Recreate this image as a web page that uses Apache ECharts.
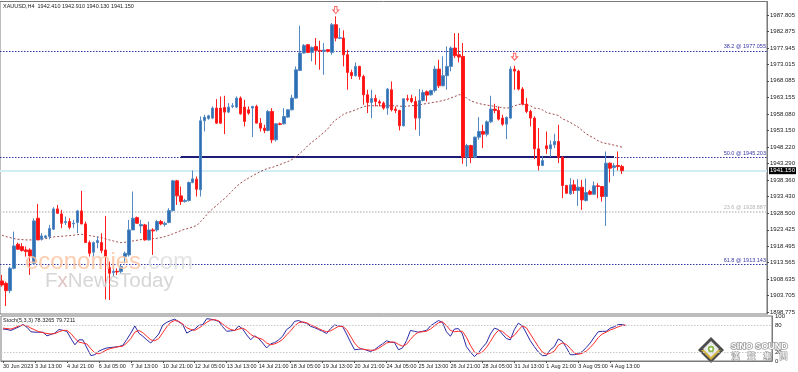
<!DOCTYPE html>
<html><head><meta charset="utf-8">
<script src="https://cdn.jsdelivr.net/npm/echarts@6/dist/echarts.min.js"></script>
<style>html,body{margin:0;padding:0;background:#fff}#c{width:798px;height:372px}</style>
</head><body><div id="c"></div>
<script>
const symbolName = 'XAUUSD,H4';
const openP = [1908.1,1907.4,1905.2,1911.9,1919.1,1918.4,1917.4,1917.4,1913.4,1926.9,
1920.6,1921.1,1921.4,1923.6,1929.7,1928.2,1925.6,1925.9,1925.2,1925.6,
1929.1,1925.2,1919.6,1916.7,1919.6,1919.6,1917.4,1912.1,1910.6,1911.0,
1910.9,1915.4,1915.9,1923.4,1927.1,1924.6,1924.9,1920.4,1923.4,1923.4,
1925.9,1925.0,1925.6,1929.2,1938.1,1933.6,1931.9,1932.2,1937.6,1938.6,
1935.4,1956.1,1956.8,1956.9,1959.9,1959.9,1960.1,1958.7,1960.4,1960.2,
1962.9,1960.2,1959.4,1959.9,1960.4,1955.4,1953.9,1953.2,1958.9,1950.4,
1955.2,1955.2,1957.2,1959.4,1962.9,1971.2,1976.4,1978.9,1976.6,1978.4,
1977.2,1977.0,1977.4,1976.6,1984.9,1980.8,1980.9,1975.9,1970.6,1969.6,
1972.4,1969.4,1963.9,1961.6,1962.8,1961.8,1961.4,1959.9,1965.4,1959.6,
1959.2,1954.6,1962.7,1962.8,1961.9,1956.9,1962.2,1964.8,1963.9,1965.2,
1971.6,1966.6,1969.6,1972.4,1977.9,1975.9,1975.4,1945.2,1948.7,1945.2,
1951.2,1952.9,1952.1,1955.8,1959.6,1959.2,1956.9,1955.1,1956.9,1971.6,
1971.0,1965.6,1961.1,1958.9,1956.9,1947.7,1942.7,1948.6,1947.7,1948.9,
1949.9,1945.2,1936.7,1934.2,1936.9,1935.2,1936.2,1932.2,1934.9,1934.1,
1936.6,1936.4,1933.4,1943.4,1942.1,1942.7,1942.41];
const closeP = [1906.9,1905.2,1911.9,1918.6,1917.6,1917.2,1916.9,1915.6,1926.1,1920.4,
1921.6,1921.6,1923.8,1929.7,1928.4,1925.4,1925.9,1924.2,1925.4,1929.1,
1925.2,1919.6,1916.4,1919.6,1920.2,1917.2,1915.4,1910.4,1911.0,1910.8,
1912.4,1916.4,1923.4,1926.9,1925.4,1925.0,1920.4,1923.4,1923.1,1925.9,
1925.2,1925.4,1929.2,1938.1,1933.6,1931.9,1932.2,1937.6,1938.7,1935.6,
1956.1,1957.2,1957.6,1959.9,1955.4,1955.4,1958.7,1960.2,1960.6,1962.9,
1958.2,1955.9,1958.4,1960.4,1955.4,1953.9,1953.2,1958.9,1950.4,1955.2,
1955.0,1957.4,1959.4,1962.9,1971.4,1976.4,1978.7,1976.6,1978.1,1977.2,
1977.0,1977.3,1976.9,1984.9,1980.9,1981.0,1975.9,1970.6,1969.6,1972.4,
1969.4,1963.9,1961.6,1962.8,1961.9,1961.4,1959.9,1965.6,1959.4,1959.2,
1954.6,1962.7,1962.5,1961.9,1956.9,1962.2,1964.6,1963.8,1965.2,1971.6,
1966.6,1969.6,1972.4,1977.9,1975.6,1975.2,1945.2,1948.7,1945.2,1951.2,
1952.9,1952.1,1955.8,1959.6,1959.2,1956.6,1955.1,1957.1,1971.6,1971.0,
1965.6,1961.1,1958.9,1956.9,1947.7,1942.7,1944.2,1947.7,1948.9,1949.9,
1945.2,1936.7,1934.4,1936.9,1935.2,1936.2,1932.4,1934.6,1934.1,1936.6,
1936.4,1933.4,1943.4,1941.9,1942.6,1942.4,1941.15];
const lowP = [1906.4,1900.6,1904.4,1911.6,1917.4,1916.9,1915.4,1909.9,1912.9,1920.4,
1920.2,1920.8,1920.6,1923.4,1928.2,1923.9,1924.9,1923.6,1923.9,1922.4,
1925.1,1919.6,1915.4,1915.4,1917.9,1916.4,1902.6,1902.4,1909.4,1909.9,
1910.4,1913.4,1915.4,1923.4,1925.2,1922.4,1920.2,1920.2,1915.9,1922.9,
1924.8,1924.4,1925.4,1928.9,1930.9,1930.9,1931.6,1931.9,1937.4,1933.4,
1933.4,1952.9,1956.4,1956.6,1955.2,1955.2,1952.1,1958.4,1959.9,1959.9,
1957.9,1954.4,1957.9,1951.2,1955.4,1952.9,1952.4,1952.9,1949.4,1949.9,
1954.8,1955.0,1957.0,1959.2,1962.7,1971.0,1976.2,1976.4,1973.9,1972.9,
1971.4,1969.9,1976.6,1975.9,1979.9,1980.6,1972.4,1965.4,1968.6,1969.4,
1968.4,1960.9,1958.4,1956.9,1960.4,1960.4,1959.4,1957.9,1958.9,1958.4,
1953.2,1954.4,1961.9,1961.4,1953.4,1951.6,1961.9,1961.9,1963.6,1964.6,
1965.9,1966.4,1965.4,1970.9,1974.9,1973.6,1943.2,1942.4,1943.4,1944.9,
1950.4,1947.9,1951.4,1955.4,1958.4,1956.2,1954.6,1950.6,1956.6,1965.4,
1965.2,1960.7,1958.4,1954.4,1944.6,1941.2,1942.6,1946.2,1945.2,1947.9,
1943.4,1932.9,1934.2,1933.9,1934.2,1930.6,1929.4,1931.9,1933.8,1933.9,
1932.9,1931.9,1924.6,1937.6,1939.6,1941.2,1940.13];
const highP = [1909.9,1907.9,1912.4,1922.9,1919.6,1919.4,1918.4,1917.9,1926.9,1931.2,
1922.4,1921.9,1924.9,1930.2,1930.9,1929.4,1927.4,1926.9,1926.4,1929.4,
1935.1,1925.9,1920.2,1919.9,1921.4,1922.4,1927.6,1913.9,1912.4,1911.9,
1912.9,1916.9,1926.4,1934.9,1927.4,1926.4,1925.2,1925.9,1923.9,1926.4,
1926.4,1925.9,1929.9,1938.4,1938.4,1936.4,1932.7,1937.9,1941.2,1939.4,
1957.4,1957.9,1957.9,1960.4,1962.6,1963.4,1963.6,1961.4,1961.4,1963.4,
1963.4,1962.4,1960.4,1960.6,1960.9,1956.9,1954.9,1959.4,1959.9,1955.4,
1955.6,1959.9,1959.6,1963.9,1972.4,1984.6,1979.1,1979.1,1978.4,1980.9,
1980.1,1979.4,1977.6,1985.4,1987.4,1983.9,1983.2,1977.4,1971.4,1973.6,
1972.6,1969.9,1965.4,1965.4,1963.9,1962.4,1961.9,1965.9,1967.9,1960.4,
1959.4,1962.9,1963.9,1963.9,1963.4,1965.6,1965.4,1965.2,1965.4,1972.6,
1974.4,1975.4,1978.4,1978.4,1982.4,1982.4,1979.4,1949.2,1948.9,1951.4,
1957.2,1954.9,1956.2,1963.6,1961.2,1960.4,1957.9,1957.4,1972.4,1972.6,
1971.4,1966.2,1962.9,1959.4,1957.4,1953.9,1945.6,1952.9,1950.2,1952.2,
1954.9,1945.4,1936.9,1938.9,1938.4,1938.6,1938.4,1938.8,1935.4,1937.9,
1937.4,1936.6,1946.9,1943.6,1943.4,1946.9,1942.91];
const maValues = [1921.8,1921.4,1921.1,1920.8,1920.6,1920.5,1920.4,1920.4,1920.4,1920.5,
1920.6,1920.8,1921.1,1921.3,1921.4,1921.5,1921.6,1921.7,1921.8,1922.0,
1922.1,1921.9,1921.7,1921.5,1921.3,1921.1,1920.7,1920.4,1920.1,1919.8,
1919.6,1919.7,1919.9,1920.1,1920.3,1920.5,1920.6,1920.7,1920.8,1920.9,
1921.1,1921.4,1921.8,1922.2,1922.7,1923.2,1923.6,1923.9,1924.3,1924.7,
1925.9,1927.2,1928.6,1929.7,1930.7,1931.8,1932.8,1933.9,1935.2,1936.4,
1937.4,1938.2,1938.9,1939.6,1940.2,1940.9,1941.4,1941.9,1942.1,1942.6,
1943.0,1943.5,1943.9,1944.5,1945.4,1946.4,1947.4,1948.7,1949.7,1950.6,
1951.6,1952.6,1953.7,1955.3,1956.4,1957.2,1958.1,1958.6,1958.9,1959.4,
1959.9,1960.3,1960.6,1960.6,1960.6,1960.6,1960.5,1960.6,1960.6,1960.6,
1960.5,1960.4,1960.5,1960.6,1960.7,1960.8,1961.1,1961.3,1961.5,1961.7,
1961.9,1962.2,1962.5,1963.0,1963.4,1963.9,1964.0,1962.8,1962.1,1961.6,
1961.3,1961.0,1960.8,1960.6,1960.4,1960.2,1960.0,1959.9,1960.1,1960.6,
1961.0,1961.1,1960.9,1960.6,1959.9,1959.8,1959.4,1958.6,1958.3,1958.0,
1957.7,1956.7,1956.2,1955.6,1954.9,1954.2,1953.2,1952.2,1951.5,1950.9,
1950.1,1949.6,1949.3,1949.1,1948.8,1948.5,1948.2];
const stochK = [71,70,68,72,76,81,75,65,64,64,
64,56,59,62,70,68,66,50,36,47,
47,29,12,14,22,26,29,30,31,32,
35,48,62,78,62,55,47,40,50,60,
80,86,90,93,87,81,62,67,71,79,
81,94,93,91,88,76,66,67,68,78,
71,58,47,56,50,40,29,38,41,47,
55,70,76,88,90,86,84,77,74,70,
66,61,72,80,78,77,60,42,25,26,
27,24,21,25,32,38,45,42,41,25,
29,45,68,66,64,66,68,78,84,90,
86,65,55,71,72,60,32,20,10,18,
30,40,60,73,70,60,50,47,70,84,
78,62,45,32,20,12,12,25,32,49,
44,30,14,14,16,21,30,40,53,65,
66,66,73,76,81,81,78.3265];
const stochD = [73,72,71,74,78,80,78,73,69,65,
63,61,60,61,65,68,68,61,50,42,
40,38,27,18,16,20,25,28,30,32,
33,40,50,64,68,63,55,47,45,50,
63,76,86,90,88,82,74,70,68,73,
79,86,91,92,89,82,75,70,68,71,
73,68,59,54,51,48,40,36,38,42,
48,58,67,78,85,87,85,80,77,72,
68,65,67,72,77,77,70,55,40,30,
26,25,24,24,28,34,40,42,42,37,
33,37,48,58,64,65,66,71,78,85,
87,79,68,65,66,66,53,35,20,16,
20,30,43,58,68,66,58,51,57,68,
78,74,60,46,32,20,15,17,22,35,
40,37,28,18,15,17,22,30,40,52,
60,64,69,72,76,79,79.7211];
const dateLabels = ['30 Jun 2023','3 Jul 13:00','4 Jul 21:00','6 Jul 05:00','7 Jul 13:00','10 Jul 21:00','12 Jul 05:00','13 Jul 13:00','14 Jul 21:00','18 Jul 05:00','19 Jul 13:00','20 Jul 21:00','24 Jul 05:00','25 Jul 13:00','26 Jul 21:00','28 Jul 05:00','31 Jul 13:00','1 Aug 21:00','3 Aug 05:00','4 Aug 13:00'];
const labelStep = 8;
const priceTicks = [1987.805,1982.875,1977.945,1973.015,1968.085,1963.155,1958.080,1953.150,1948.220,1943.290,1938.360,1933.430,1928.500,1923.425,1918.495,1913.565,1908.635,1903.705,1898.775];
const stochTicks = [0,20,80,100];
const stochLevels = [20,80];
const fibNames = ['38.2','50.0','61.8'];
const fibValues = [1977.055,1945.203,1913.143];
const fib2Name = '23.6';
const fib2Value = 1928.887;
const segmentStart = 45, segmentEnd = 154, segmentValue = 1945.203;
const arrowIdx = [84,129];
const arrowPrice = [1989.3,1975.3];

const slots = 193;
const cats = Array.from({length: slots}, (_, i) => 'b' + i);
const lastIdx = closeP.length - 1;
const ohlc = openP.map((o, i) => [o, closeP[i], lowP[i], highP[i]]);
const FONT = 'Liberation Sans';
const isLabelSlot = (i) => i % labelStep === 0 && i / labelStep < dateLabels.length;

const chart = echarts.init(document.getElementById('c'));
const fibLines = fibValues.map((v, i) => ({
  yAxis: v,
  lineStyle: {color: '#3434a8', type: [1.5, 1.5], width: 1},
  label: {show: true, position: 'insideEndTop', distance: 1, formatter: fibNames[i] + ' @ ' + v.toFixed(3), color: '#3838a8', fontSize: 5.5, fontFamily: FONT}
}));
fibLines.push({
  yAxis: fib2Value,
  lineStyle: {color: '#c4c4c4', type: [1.5, 1.5], width: 1.5},
  label: {show: true, position: 'insideEndTop', distance: 1, formatter: fib2Name + ' @ ' + fib2Value.toFixed(3), color: '#b4b4b4', fontSize: 5.5, fontFamily: FONT}
});
fibLines.push({
  yAxis: closeP[lastIdx],
  lineStyle: {color: '#d2edf3', type: 'solid', width: 2},
  label: {show: true, position: 'end', distance: 2, formatter: closeP[lastIdx].toFixed(3), color: '#fff', backgroundColor: '#000', padding: [1, 1, 0, 1], fontSize: 6, fontFamily: FONT}
});
fibLines.push([
  {coord: [segmentStart, segmentValue], lineStyle: {color: '#1d1d78', width: 2, type: 'solid'}, label: {show: false}},
  {coord: [segmentEnd, segmentValue]}
]);

const option = {
  animation: false,
  backgroundColor: '#fff',
  grid: [
    {left: 0, top: 1.5, width: 772, height: 312.5, show: true, borderColor: '#7a7a7a', borderWidth: 1},
    {left: 0, top: 316, width: 772, height: 45, show: true, borderColor: '#7a7a7a', borderWidth: 1}
  ],
  xAxis: [
    {type: 'category', gridIndex: 0, data: cats, boundaryGap: true, axisLine: {show: false}, axisTick: {show: false}, axisLabel: {show: false}, splitLine: {show: false}},
    {type: 'category', gridIndex: 1, data: cats, boundaryGap: true,
      axisLine: {show: true, lineStyle: {color: '#7a7a7a'}},
      axisTick: {show: true, alignWithLabel: true, length: 2, interval: isLabelSlot, lineStyle: {color: '#555'}},
      axisLabel: {show: true, interval: isLabelSlot, showMinLabel: true, showMaxLabel: true, hideOverlap: false,
        formatter: (v, i) => (isLabelSlot(i) ? dateLabels[i / labelStep] : ''),
        align: 'left', margin: 2, fontSize: 5.5, color: '#222', fontFamily: FONT},
      splitLine: {show: false}}
  ],
  yAxis: [
    {type: 'value', gridIndex: 0, position: 'right', min: 1898.2, max: 1991.85, splitLine: {show: false},
      axisLine: {show: true, lineStyle: {color: '#7a7a7a'}},
      axisTick: {show: true, customValues: priceTicks, length: 2, lineStyle: {color: '#444'}},
      axisLabel: {show: true, customValues: priceTicks, formatter: (v) => v.toFixed(3), margin: 3, fontSize: 6, color: '#222', fontFamily: FONT}},
    {type: 'value', gridIndex: 1, position: 'right', min: 0, max: 100, splitLine: {show: false},
      axisLine: {show: true, lineStyle: {color: '#7a7a7a'}},
      axisTick: {show: false},
      axisLabel: {show: true, customValues: stochTicks, formatter: (v) => String(v), margin: 3, fontSize: 6, color: '#222', fontFamily: FONT}}
  ],
  series: [
    {type: 'candlestick', xAxisIndex: 0, yAxisIndex: 0, data: ohlc, barWidth: 3,
      itemStyle: {color: '#2f6fb4', color0: '#ff1010', borderColor: '#5289c2', borderColor0: '#ff2020', borderWidth: 1},
      markLine: {silent: true, symbol: ['none', 'none'], data: fibLines, z: 1}},
    {type: 'line', xAxisIndex: 0, yAxisIndex: 0, data: maValues, symbol: 'none', z: 1,
      lineStyle: {color: '#a04848', width: 1, type: [2, 2]}},
    {type: 'scatter', xAxisIndex: 0, yAxisIndex: 0, data: arrowIdx.map((x, i) => [x, arrowPrice[i]]),
      symbol: 'path://M3,0 L7,0 L7,5 L10,5 L5,10 L0,5 L3,5 Z', symbolSize: [6, 7],
      itemStyle: {color: '#fff', borderColor: '#ff3a3a', borderWidth: 1}},
    {type: 'line', xAxisIndex: 1, yAxisIndex: 1, data: stochK, symbol: 'none',
      lineStyle: {color: '#2a2aa6', width: 1},
      markLine: {silent: true, symbol: ['none', 'none'], label: {show: false},
        lineStyle: {color: '#c8c8c8', type: [1.5, 1.5], width: 1}, data: stochLevels.map(v => ({yAxis: v}))}},
    {type: 'line', xAxisIndex: 1, yAxisIndex: 1, data: stochD, symbol: 'none',
      lineStyle: {color: '#ff2b2b', width: 1}}
  ],
  graphic: [
    {type: 'text', left: 3, top: 3, z: 10, style: {text: symbolName + '  ' + openP[lastIdx].toFixed(3) + ' ' + highP[lastIdx].toFixed(3) + ' ' + lowP[lastIdx].toFixed(3) + ' ' + closeP[lastIdx].toFixed(3), fill: '#222', fontSize: 5.5, fontFamily: FONT}},
    {type: 'text', left: 3, top: 317, z: 10, style: {text: 'Stoch(5,3,3) ' + stochK[lastIdx].toFixed(4) + ' ' + stochD[lastIdx].toFixed(4), fill: '#222', fontSize: 5.5, fontFamily: FONT}},
    {type: 'text', left: 25, top: 250, z: 20, style: {text: '{a|economies}{b|.com}', fontSize: 24, fontFamily: FONT, opacity: 0.85,
      rich: {a: {fill: '#fcc3a0', fontSize: 24, fontFamily: FONT}, b: {fill: '#dedede', fontSize: 24, fontFamily: FONT}}}},
    {type: 'text', left: 45, top: 271, z: 20, style: {text: '{a|F}{x|x}{a|NewsToday}', fontSize: 20.5, fontFamily: FONT, opacity: 0.85,
      rich: {a: {fill: '#cfcfcf', fontSize: 20.5, fontFamily: FONT}, x: {fill: '#d9b9b9', fontSize: 20.5, fontFamily: FONT}}}},
    {type: 'group', left: 698, top: 337, z: 30, children: [
      {type: 'polygon', shape: {points: [[13, 0], [26, 13], [13, 26], [0, 13]]}, style: {fill: '#4d4d4d'}},
      {type: 'polygon', shape: {points: [[13, 13], [23, 13], [13, 23], [3, 13]]}, style: {fill: '#d4b43a'}},
      {type: 'polygon', shape: {points: [[13, 4], [21, 12], [13, 20], [5, 12]]}, style: {fill: '#e8e8e8'}},
      {type: 'circle', shape: {cx: 13, cy: 12, r: 4}, style: {fill: '#8dbb4a', stroke: '#fff', lineWidth: 1}},
      {type: 'circle', shape: {cx: 13, cy: 12, r: 1.5}, style: {fill: '#fff'}}
    ]},
    {type: 'text', left: 730, top: 341, z: 30, style: {text: 'SINO SOUND', fill: '#fff', stroke: '#9a9a9a', lineWidth: 1.5, fontSize: 9, fontWeight: 'bold', fontFamily: FONT}},
    {type: 'text', left: 731, top: 351, z: 30, style: {text: '漢　聲　集　團', fill: '#fff', stroke: '#9a9a9a', lineWidth: 1.2, fontSize: 8, fontFamily: 'Noto Sans CJK TC'}}
  ]
};
chart.setOption(option);
</script>
</body></html>
